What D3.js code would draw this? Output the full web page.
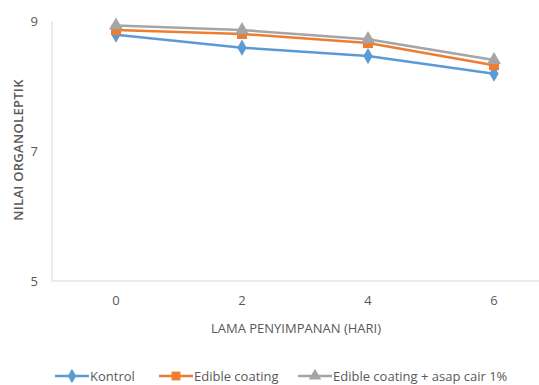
<!DOCTYPE html>
<html>
<head>
<meta charset="utf-8">
<script src="https://cdn.jsdelivr.net/npm/d3@7"></script>
<style>
  html, body { margin: 0; padding: 0; background: #fff; }
  svg { display: block; font-family: "Open Sans", sans-serif; }
</style>
</head>
<body>
<svg id="chart" width="539" height="385"></svg>
<script>
// Storage time (days) and organoleptic scores per treatment
const days = ["0", "2", "4", "6"];
const kontrol = [8.79, 8.59, 8.46, 8.19];
const edibleCoating = [8.86, 8.80, 8.66, 8.32];
const edibleAsap = [8.93, 8.86, 8.72, 8.40];
const yTicks = [5, 7, 9];
const seriesNames = ["Kontrol", "Edible coating", "Edible coating + asap cair 1%"];

const series = [
  { name: seriesNames[0], values: kontrol, color: "#5B9BD5", shape: "diamond" },
  { name: seriesNames[1], values: edibleCoating, color: "#ED7D31", shape: "square" },
  { name: seriesNames[2], values: edibleAsap, color: "#A5A5A5", shape: "triangle" }
];

const svg = d3.select("#chart");
const plotLeft = 52, plotTop = 21, plotBottom = 281, plotRight = 539;

const x = d3.scalePoint().domain(days).range([53, 557]).padding(0.5);
const y = d3.scaleLinear().domain([5, 9]).range([plotBottom, plotTop]);

// axis lines
svg.append("line").attr("x1", plotLeft).attr("x2", plotLeft).attr("y1", plotTop).attr("y2", plotBottom)
  .attr("stroke", "#d9d9d9").attr("stroke-width", 1);
svg.append("line").attr("x1", plotLeft).attr("x2", plotRight).attr("y1", plotBottom).attr("y2", plotBottom)
  .attr("stroke", "#d9d9d9").attr("stroke-width", 1);

// y tick labels
svg.selectAll(".ytick").data(yTicks).enter().append("text")
  .attr("x", 38).attr("y", d => y(d)).attr("dy", "0.35em")
  .attr("text-anchor", "end").attr("font-size", 13).attr("fill", "#595959")
  .text(d => d);

// x tick labels
svg.selectAll(".xtick").data(days).enter().append("text")
  .attr("x", d => x(d)).attr("y", 305)
  .attr("text-anchor", "middle").attr("font-size", 13).attr("fill", "#595959")
  .text(d => d);

// axis titles
svg.append("text").attr("x", 296).attr("y", 333).attr("text-anchor", "middle")
  .attr("font-size", 13).attr("fill", "#595959").text("LAMA PENYIMPANAN (HARI)");
svg.append("text").attr("transform", "translate(23,150) rotate(-90)")
  .attr("text-anchor", "middle").attr("font-size", 13).attr("font-weight", 600)
  .attr("fill", "#595959").attr("letter-spacing", 0.3)
  .text("NILAI ORGANOLEPTIK");

const symbolType = { diamond: d3.symbolDiamond, square: d3.symbolSquare, triangle: d3.symbolTriangle };
const symbolSize = { diamond: 75, square: 100, triangle: 85 };
const line = d3.line().x((d, i) => x(days[i])).y(d => y(d));

series.forEach(s => {
  svg.append("path").datum(s.values).attr("d", line)
    .attr("fill", "none").attr("stroke", s.color).attr("stroke-width", 2.5)
    .attr("stroke-linejoin", "round");
  svg.selectAll(null).data(s.values).enter().append("path")
    .attr("transform", (d, i) => `translate(${x(days[i])},${y(d)})`)
    .attr("d", d3.symbol().type(symbolType[s.shape]).size(symbolSize[s.shape]))
    .attr("fill", s.color);
});

// legend
const legendX = [55, 159, 298];
const legendY = 376;
series.forEach((s, i) => {
  const g = svg.append("g").attr("transform", `translate(${legendX[i]},${legendY})`);
  g.append("line").attr("x1", 0).attr("x2", 34).attr("stroke", s.color).attr("stroke-width", 2.5);
  g.append("path").attr("transform", "translate(17,0)")
    .attr("d", d3.symbol().type(symbolType[s.shape]).size(symbolSize[s.shape] * 0.8))
    .attr("fill", s.color);
  g.append("text").attr("x", 35).attr("dy", "0.35em").attr("font-size", 13)
    .attr("fill", "#595959").text(s.name);
});
</script>
</body>
</html>
